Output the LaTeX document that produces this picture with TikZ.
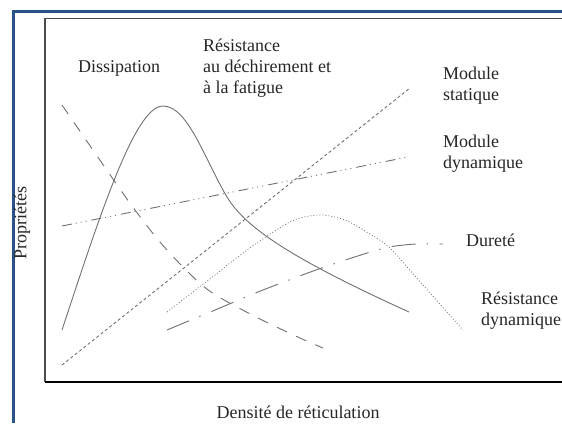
\documentclass[tikz,border=0pt]{standalone}
\usepackage{fontspec}
\setmainfont{Liberation Serif}
\definecolor{frameblue}{HTML}{2B5288}
\definecolor{curvegray}{HTML}{707070}
\begin{document}
\begin{tikzpicture}[x=1pt,y=-1pt]
        \tikzstyle{label}=[inner sep=0pt,anchor=base west,align=left,text=black!85,font=\fontsize{18}{21}\selectfont]
        \tikzstyle{curve}=[draw=curvegray,line width=0.9pt]
        \useasboundingbox (0,0) rectangle (562,423);
        % frame and axes
        \draw[frameblue,line width=3pt] (13.5,423) -- (13.5,11) -- (562,11);
        \draw[black!70,line width=1.2pt] (562,18.5) -- (45,18.5) -- (45,382);
        \draw[black,line width=1.2pt] (45,382) -- (562,382);

        \node [label] (dissip) at (78,72) {Dissipation};
        \node [label] (dechir) at (203,93) {Résistance\\au déchirement et\\à la fatigue};
        \node [label] (modstat) at (443,100) {Module\\statique};
        \node [label] (moddyn) at (443,168) {Module\\dynamique};
        \node [label] (durete) at (466,246) {Dureté};
        \node [label] (resdyn) at (481,325) {Résistance\\dynamique};
        \node [label,anchor=center,rotate=90] (prop) at (22,223) {Propriétés};
        \node [label,anchor=center] (dens) at (298,412) {Densité de réticulation};

        % curves
        \path[curve] (62,330) .. controls (100,215) and (135,106) .. (163,106)
                .. controls (188,106) and (205,160) .. (227,197)
                .. controls (245,227) and (290,258) .. (409,312);
        \path[curve,dash pattern=on 11pt off 10pt] plot[smooth] coordinates {(62,105) (127,199) (160,242) (190,274) (214,294) (258,318) (300,338) (323,348)};
        \path[curve,dash pattern=on 3pt off 2.5pt] (62,365) -- (410,88);
        \path[curve,dash pattern=on 10pt off 4pt on 1pt off 4pt on 1pt off 4pt on 1pt off 5pt] (62,226) -- (408,157);
        \path[curve,line width=0.7pt,dash pattern=on 1pt off 2pt] plot[smooth] coordinates {(167,312) (215,275) (247,250) (281,227) (300,218) (322,215) (345,220) (365,231) (389,247) (414,275) (438,302) (463,330)};
        \path[curve,dash pattern=on 24pt off 11pt on 1.5pt off 11.5pt] plot[smooth] coordinates {(167,330) (215,310) (263,290) (316,270) (364,254) (389,247) (416,244) (443,244)};
\end{tikzpicture}
\end{document}
